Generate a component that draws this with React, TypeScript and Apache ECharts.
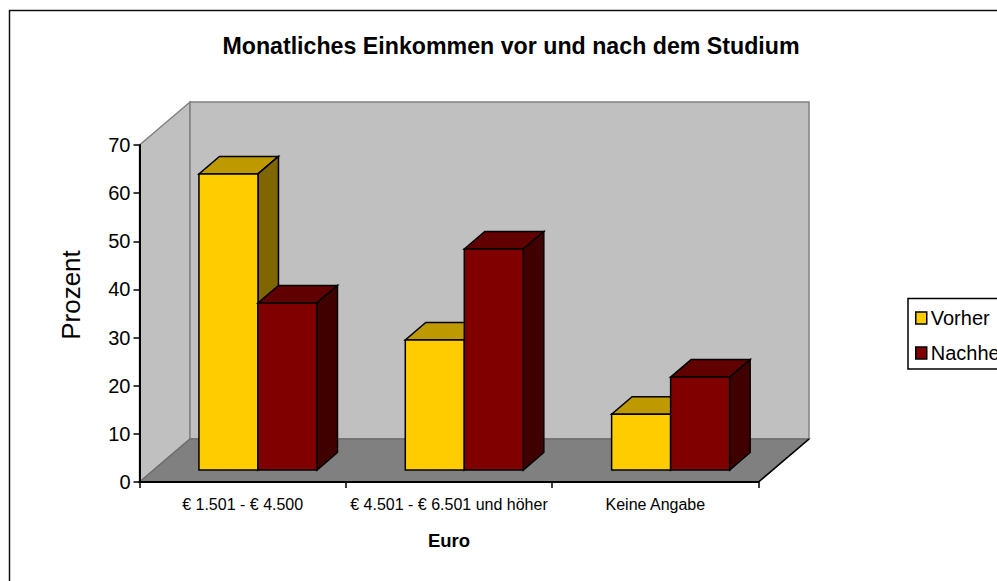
import React, { useEffect, useRef } from "react";
import * as echarts from "echarts";

const titleText = "Monatliches Einkommen vor und nach dem Studium";
const categories = ["€ 1.501 - € 4.500", "€ 4.501 - € 6.501 und höher", "Keine Angabe"];
const vorher = [61.5, 27, 11.6];
const nachher = [34.7, 45.9, 19.3];
const yTicks = { min: 0, max: 70, interval: 10 };

const FONT = '"Liberation Sans", Arial, sans-serif';
const WALL_DX = 50.5;
const WALL_DY = 43;
const GAP_DX = 15.3;
const GAP_DY = 12;
const BAR_DX = 20.5;
const BAR_DY = 17.5;
const BAR_FRAC = 0.286;

function poly(points: number[][], fill: string, stroke: string, lineWidth: number) {
  return { type: "polygon", shape: { points }, style: { fill, stroke, lineWidth } };
}

function barRenderer(side: number, front: string, top: string, dark: string) {
  return (_params: any, api: any) => {
    const idx = api.value(0);
    const val = api.value(1);
    const base = api.coord([idx, 0]);
    const head = api.coord([idx, val]);
    const w = api.size([1, 0])[0] * BAR_FRAC;
    const x0 = base[0] + GAP_DX + (side === 0 ? -w : 0);
    const x1 = x0 + w;
    const yb = base[1] - GAP_DY;
    const yt = head[1] - GAP_DY;
    return {
      type: "group",
      children: [
        poly([[x0, yt], [x1, yt], [x1 + BAR_DX, yt - BAR_DY], [x0 + BAR_DX, yt - BAR_DY]], top, "#000", 1.5),
        poly([[x1, yt], [x1 + BAR_DX, yt - BAR_DY], [x1 + BAR_DX, yb - BAR_DY], [x1, yb]], dark, "#000", 1.5),
        poly([[x0, yt], [x1, yt], [x1, yb], [x0, yb]], front, "#000", 1.5),
      ],
    };
  };
}

function wallsRenderer(params: any) {
  const { x, y, width, height } = params.coordSys;
  const b = y + height;
  const r = x + width;
  return {
    type: "group",
    children: [
      poly([[x, y], [x + WALL_DX, y - WALL_DY], [x + WALL_DX, b - WALL_DY], [x, b]], "#C0C0C0", "#808080", 1.5),
      poly([[x + WALL_DX, y - WALL_DY], [r + WALL_DX, y - WALL_DY], [r + WALL_DX, b - WALL_DY], [x + WALL_DX, b - WALL_DY]], "#C0C0C0", "#808080", 1.5),
      poly([[x, b], [x + WALL_DX, b - WALL_DY], [r + WALL_DX, b - WALL_DY], [r, b]], "#808080", "#6e6e6e", 1.5),
      { type: "line", shape: { x1: r, y1: b, x2: r + WALL_DX, y2: b - WALL_DY }, style: { stroke: "#000", lineWidth: 1.5 } },
    ],
  };
}

export default function App() {
  const ref = useRef<HTMLDivElement>(null);
  useEffect(() => {
    document.body.style.margin = "0";
    document.body.style.background = "#fff";
    const chart = echarts.init(ref.current!, undefined, { renderer: "svg" });
    chart.setOption({
      animation: false,
      backgroundColor: "#fff",
      title: {
        text: titleText,
        left: 506,
        top: 29.5,
        textAlign: "center",
        textStyle: { fontFamily: FONT, fontSize: 23.2, fontWeight: "bold", color: "#000" },
      },
      grid: { left: 139.5, top: 145, width: 619, height: 337 },
      legend: {
        orient: "vertical",
        left: 908,
        top: 298.5,
        padding: [9.5, 22, 6, 7],
        itemGap: 15,
        itemWidth: 11,
        itemHeight: 12,
        borderColor: "#000",
        borderWidth: 1.5,
        backgroundColor: "#fff",
        textStyle: { fontFamily: FONT, fontSize: 20, color: "#000", padding: [0, 0, 0, -1] },
        data: [
          { name: "Vorher", icon: "rect", itemStyle: { color: "#FFCC00", borderColor: "#000", borderWidth: 1.5 } },
          { name: "Nachher", icon: "rect", itemStyle: { color: "#800000", borderColor: "#000", borderWidth: 1.5 } },
        ],
      },
      xAxis: {
        type: "category",
        data: categories,
        z: 10,
        name: "Euro",
        nameLocation: "middle",
        nameGap: 49,
        nameTextStyle: { fontFamily: FONT, fontSize: 18.5, fontWeight: "bold", color: "#000" },
        axisLine: { show: true, lineStyle: { color: "#000", width: 2 } },
        axisTick: { show: true, alignWithLabel: false, length: 6, lineStyle: { color: "#000", width: 1.5 } },
        axisLabel: { fontFamily: FONT, fontSize: 16, color: "#000", margin: 14, interval: 0 },
        splitLine: { show: false },
      },
      yAxis: {
        type: "value",
        ...yTicks,
        z: 10,
        axisLine: { show: true, lineStyle: { color: "#000", width: 2 } },
        axisTick: { show: true, length: 6, lineStyle: { color: "#000", width: 1.5 } },
        axisLabel: { fontFamily: FONT, fontSize: 20, color: "#000", margin: 9 },
        splitLine: { show: false },
      },
      graphic: [
        {
          type: "rect",
          z: 100,
          silent: true,
          shape: { x: 9.5, y: 10.5, width: 1100, height: 800 },
          style: { fill: "none", stroke: "#111", lineWidth: 1.5 },
        },
        {
          type: "text",
          x: 71,
          y: 295,
          rotation: Math.PI / 2,
          style: {
            text: "Prozent",
            fontFamily: FONT,
            fontSize: 26,
            fill: "#000",
            textAlign: "center",
            textVerticalAlign: "middle",
          },
        },
      ],
      series: [
        { type: "custom", name: "walls", silent: true, z: 1, data: [[0, 0]], encode: { x: 0, y: 1 }, renderItem: wallsRenderer },
        {
          type: "custom",
          name: "Vorher",
          z: 2,
          itemStyle: { color: "#FFCC00" },
          data: vorher.map((v, i) => [i, v]),
          encode: { x: 0, y: 1 },
          renderItem: barRenderer(0, "#FFCC00", "#BF9900", "#806600"),
        },
        {
          type: "custom",
          name: "Nachher",
          z: 3,
          itemStyle: { color: "#800000" },
          data: nachher.map((v, i) => [i, v]),
          encode: { x: 0, y: 1 },
          renderItem: barRenderer(1, "#800000", "#600000", "#400000"),
        },
      ],
    });
    return () => chart.dispose();
  }, []);
  return <div ref={ref} style={{ width: 997, height: 581, overflow: "hidden" }} />;
}
